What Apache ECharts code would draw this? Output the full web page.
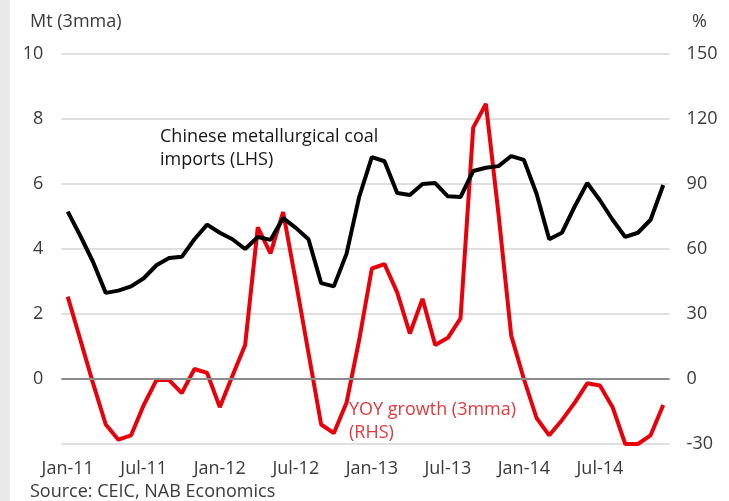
<!DOCTYPE html>
<html>
<head>
<meta charset="utf-8">
<script src="https://cdn.jsdelivr.net/npm/echarts@6/dist/echarts.min.js"></script>
<style>
  html, body { margin: 0; padding: 0; background: #ffffff; }
  #chart { width: 729px; height: 501px; }
</style>
</head>
<body>
<div id="chart"></div>
<script>
// Monthly categories, Jan-11 to Dec-14
const years = ['11', '12', '13', '14'];
const monthNames = ['Jan', 'Feb', 'Mar', 'Apr', 'May', 'Jun', 'Jul', 'Aug', 'Sep', 'Oct', 'Nov', 'Dec'];
const months = [];
years.forEach(y => monthNames.forEach(m => months.push(m + '-' + y)));

// Chinese metallurgical coal imports, Mt, 3-month moving average (LHS)
const imports = [
  5.15, 4.4, 3.6, 2.65, 2.72, 2.85, 3.1, 3.5, 3.72, 3.76, 4.3, 4.75,
  4.5, 4.3, 4.0, 4.37, 4.28, 4.95, 4.65, 4.3, 2.95, 2.85, 3.85, 5.6,
  6.83, 6.7, 5.72, 5.66, 6.0, 6.03, 5.62, 5.6, 6.4, 6.5, 6.55, 6.86,
  6.74, 5.7, 4.3, 4.5, 5.3, 6.03, 5.5, 4.9, 4.37, 4.5, 4.9, 5.97
];

// Year-on-year growth, %, 3-month moving average (RHS)
const yoyGrowth = [
  38, 18, -2, -21, -28, -26, -12, -0.5, -0.5, -6.5, 4.6, 2.8,
  -13, 1.5, 15.7, 70, 58, 77, 45, 12, -21, -25, -11, 18,
  51, 53, 40, 21, 37, 15.7, 19, 28, 116, 127, 76, 20,
  0, -18, -26, -19, -11, -2, -3, -13, -30, -30, -26, -12
];

// Axis ticks
const lhsTicks = { min: -2, max: 10, step: 2 };
const rhsTicks = { min: -30, max: 150, step: 30 };

const FONT = '"Open Sans", "Noto Sans", sans-serif';
const FONT_SIZE = 18;
const labelColor = '#3a3a3a';

const chart = echarts.init(document.getElementById('chart'), null, { renderer: 'canvas' });

chart.setOption({
  animation: false,
  backgroundColor: '#ffffff',
  grid: { left: 61.4, right: 59.4, top: 54, bottom: 57 },
  xAxis: {
    type: 'category',
    data: months,
    boundaryGap: true,
    axisLine: { show: false },
    axisTick: { show: false },
    axisLabel: {
      interval: 5,
      margin: 16,
      color: labelColor,
      fontFamily: FONT,
      fontSize: FONT_SIZE
    },
    splitLine: { show: false }
  },
  yAxis: [
    {
      type: 'value',
      min: lhsTicks.min,
      max: lhsTicks.max,
      interval: lhsTicks.step,
      axisLine: { show: false },
      axisTick: { show: false },
      axisLabel: {
        margin: 18,
        color: labelColor,
        fontFamily: FONT,
        fontSize: FONT_SIZE,
        formatter: v => (v === lhsTicks.min ? '' : String(v))
      },
      splitLine: { show: true, lineStyle: { color: '#d4d4d4', width: 1.5 } }
    },
    {
      type: 'value',
      min: rhsTicks.min,
      max: rhsTicks.max,
      interval: rhsTicks.step,
      axisLine: { show: false },
      axisTick: { show: false },
      axisLabel: {
        margin: 17,
        color: labelColor,
        fontFamily: FONT,
        fontSize: FONT_SIZE
      },
      splitLine: { show: false }
    }
  ],
  series: [
    {
      name: 'YOY growth (3mma) (RHS)',
      type: 'line',
      yAxisIndex: 1,
      data: yoyGrowth,
      showSymbol: false,
      lineStyle: { color: '#e8000b', width: 4 },
      z: 3
    },
    {
      name: 'Chinese metallurgical coal imports (LHS)',
      type: 'line',
      yAxisIndex: 0,
      data: imports,
      showSymbol: false,
      lineStyle: { color: '#000000', width: 4 },
      markLine: {
        silent: true,
        symbol: 'none',
        label: { show: false },
        lineStyle: { color: '#8c8c8c', width: 2, type: 'solid' },
        data: [{ yAxis: 0 }]
      },
      z: 4
    }
  ],
  graphic: [
    {
      type: 'rect',
      left: 0, top: 0,
      shape: { width: 10, height: 501 },
      style: { fill: '#e9e9e9' },
      silent: true
    },
    {
      type: 'text', x: 30, y: 22,
      style: { text: 'Mt (3mma)', fill: labelColor, font: FONT_SIZE + 'px ' + FONT, verticalAlign: 'middle' }
    },
    {
      type: 'text', x: 692, y: 22,
      style: { text: '%', fill: labelColor, font: FONT_SIZE + 'px ' + FONT, verticalAlign: 'middle' }
    },
    {
      type: 'text', x: 160, y: 137,
      style: {
        text: 'Chinese metallurgical coal\nimports (LHS)',
        fill: '#161616', font: FONT_SIZE + 'px ' + FONT, lineHeight: 23, verticalAlign: 'top',
        y: -11.5
      }
    },
    {
      type: 'text', x: 349, y: 398,
      style: {
        text: 'YOY growth (3mma)\n(RHS)',
        fill: '#e23a3a', font: FONT_SIZE + 'px ' + FONT, lineHeight: 23, verticalAlign: 'top'
      }
    },
    {
      type: 'text', x: 30, y: 492,
      style: { text: 'Source: CEIC, NAB Economics', fill: labelColor, font: FONT_SIZE + 'px ' + FONT, verticalAlign: 'middle' }
    }
  ]
});
</script>
</body>
</html>
